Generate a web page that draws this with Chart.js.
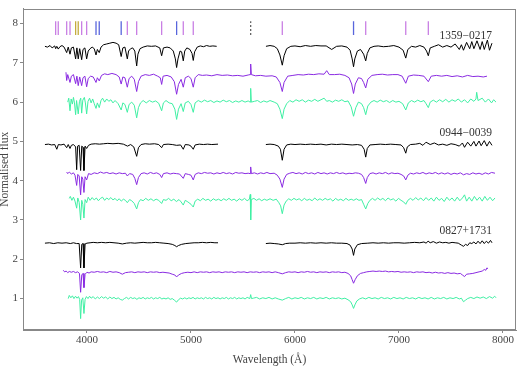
<!DOCTYPE html>
<html>
<head>
<meta charset="utf-8">
<script src="https://cdn.jsdelivr.net/npm/chart.js@4.4.1/dist/chart.umd.min.js"></script>
<style>
  html, body { margin: 0; padding: 0; background: #fff; }
</style>
</head>
<body>
<canvas id="chart_spectra" width="520" height="368"></canvas>
<script>
// spectra as flat [wavelength (A), normalised flux, ...] pairs; null flux = gap
var spec1359Black = [
  3596,7.42, 3620,7.40, 3645,7.44, 3665,7.38, 3690,7.43, 3699,7.36, 3710,7.42, 3724,7.35, 3740,7.41, 3760,7.44,
  3780,7.40, 3805,7.26, 3820,7.40, 3837,7.22, 3850,7.38, 3870,7.40, 3891,7.10, 3903,7.38, 3916,7.10, 3930,7.36,
  3949,7.08, 3962,7.34, 3980,7.38, 3997,7.10, 4012,7.30, 4030,7.36, 4050,7.40, 4070,7.36, 4087,7.20, 4100,7.34,
  4118,7.26, 4135,7.40, 4160,7.46, 4190,7.48, 4220,7.50, 4250,7.52, 4280,7.50, 4305,7.46, 4329,7.16, 4345,7.38,
  4365,7.40, 4388,7.10, 4400,7.30, 4420,7.36, 4440,7.38, 4460,7.30, 4478,6.92, 4490,7.22, 4510,7.36, 4540,7.40,
  4580,7.43, 4620,7.42, 4660,7.43, 4700,7.38, 4718,7.18, 4735,7.38, 4770,7.40, 4800,7.38, 4830,7.30, 4850,7.10,
  4862,6.88, 4875,7.10, 4895,7.30, 4910,7.28, 4926,7.05, 4940,7.30, 4960,7.38, 4990,7.34, 5010,7.24, 5022,7.06,
  5035,7.28, 5060,7.40, 5090,7.43, 5120,7.41, 5150,7.44, 5180,7.42, 5210,7.43, 5247,7.42,
  5500,null,
  5721,7.42, 5760,7.44, 5800,7.42, 5830,7.36, 5855,7.20, 5878,6.94, 5895,7.18, 5920,7.36, 5960,7.42, 6000,7.43,
  6050,7.41, 6100,7.44, 6150,7.42, 6200,7.44, 6250,7.43, 6300,7.43, 6353,7.34, 6400,7.42, 6450,7.43, 6500,7.40,
  6530,7.32, 6550,7.10, 6563,6.90, 6575,7.10, 6600,7.30, 6630,7.34, 6660,7.22, 6680,7.05, 6695,7.24, 6720,7.38,
  6760,7.42, 6800,7.43, 6850,7.41, 6900,7.42, 6950,7.44, 7000,7.40, 7040,7.32, 7065,7.12, 7085,7.34, 7120,7.42,
  7160,7.40, 7200,7.44, 7240,7.40, 7265,7.30, 7282,7.18, 7300,7.38, 7340,7.42, 7380,7.46, 7420,7.40, 7460,7.44,
  7500,7.40, 7540,7.48, 7580,7.34, 7600,7.46, 7620,7.32, 7650,7.52, 7680,7.36, 7700,7.54, 7720,7.36, 7750,7.56,
  7780,7.34, 7800,7.54, 7820,7.34, 7850,7.58, 7870,7.32, 7894,7.50
];
var spec1359Purple = [
  3798,6.76, 3805,6.55, 3815,6.70, 3837,6.50, 3850,6.66, 3870,6.70, 3891,6.47, 3903,6.66, 3916,6.42, 3930,6.64,
  3949,6.42, 3962,6.62, 3980,6.66, 3997,6.39, 4012,6.60, 4035,6.66, 4060,6.64, 4087,6.50, 4100,6.62, 4118,6.54,
  4140,6.68, 4170,6.72, 4200,6.70, 4240,6.73, 4280,6.70, 4310,6.64, 4329,6.46, 4345,6.64, 4365,6.62, 4388,6.38,
  4405,6.60, 4430,6.66, 4455,6.58, 4478,6.27, 4495,6.52, 4520,6.66, 4560,6.70, 4600,6.68, 4640,6.71, 4680,6.66,
  4705,6.62, 4718,6.45, 4732,6.66, 4770,6.68, 4810,6.64, 4840,6.52, 4862,6.20, 4880,6.45, 4905,6.58, 4926,6.38,
  4945,6.62, 4975,6.66, 5000,6.60, 5022,6.38, 5040,6.62, 5070,6.70, 5110,6.68, 5150,6.69, 5200,6.67, 5250,6.70,
  5300,6.68, 5350,6.69, 5400,6.67, 5450,6.68, 5500,6.66, 5550,6.69, 5568,6.70, 5574,6.97, 5580,6.70, 5620,6.67,
  5670,6.68, 5720,6.66, 5780,6.67, 5820,6.64, 5855,6.50, 5878,6.27, 5895,6.50, 5930,6.66, 5980,6.68, 6030,6.70,
  6080,6.69, 6130,6.71, 6180,6.70, 6230,6.72, 6280,6.71, 6305,6.80, 6330,6.70, 6380,6.70, 6430,6.71, 6480,6.68,
  6520,6.62, 6545,6.46, 6563,6.22, 6580,6.46, 6610,6.62, 6640,6.60, 6660,6.50, 6680,6.36, 6700,6.58, 6740,6.68,
  6790,6.70, 6840,6.71, 6890,6.69, 6940,6.70, 6990,6.70, 7030,6.66, 7065,6.48, 7090,6.66, 7140,6.69, 7190,6.68,
  7240,6.66, 7282,6.52, 7310,6.66, 7360,6.68, 7410,6.66, 7460,6.68, 7510,6.65, 7560,6.67, 7610,6.64, 7660,6.68,
  7710,6.65, 7760,6.66, 7810,6.64, 7846,6.66
];
var spec1359Green = [
  3815,6.00, 3825,6.10, 3837,5.78, 3848,6.08, 3860,5.95, 3870,6.12, 3880,5.98, 3891,5.68, 3900,6.04, 3916,5.70,
  3928,6.02, 3940,6.10, 3949,5.72, 3960,6.05, 3975,6.12, 3985,5.98, 3997,5.70, 4010,6.02, 4025,6.10, 4040,5.98,
  4055,6.08, 4070,5.96, 4087,5.84, 4100,5.98, 4118,5.86, 4135,6.04, 4150,6.10, 4170,6.00, 4190,6.08, 4210,6.02,
  4230,6.06, 4250,5.98, 4270,6.04, 4300,5.96, 4329,5.80, 4345,5.98, 4365,5.94, 4388,5.74, 4405,5.94, 4430,6.00,
  4455,5.92, 4478,5.60, 4495,5.86, 4515,5.98, 4540,6.04, 4570,5.98, 4600,6.04, 4630,6.00, 4660,6.03, 4690,5.97,
  4718,5.78, 4735,5.98, 4760,6.04, 4790,5.98, 4820,5.96, 4845,5.82, 4862,5.56, 4880,5.82, 4905,5.96, 4926,5.76,
  4945,5.98, 4975,6.02, 5000,5.94, 5022,5.74, 5040,5.98, 5070,6.04, 5100,6.00, 5130,6.05, 5160,6.01, 5190,6.04,
  5220,5.99, 5250,6.03, 5280,6.00, 5310,6.05, 5340,6.01, 5370,6.04, 5400,5.99, 5430,6.03, 5460,6.00, 5490,6.04,
  5520,6.00, 5550,6.03, 5568,6.00, 5574,6.35, 5580,6.00, 5610,6.02, 5640,6.04, 5670,5.99, 5700,6.03, 5730,6.00,
  5760,6.04, 5800,6.00, 5830,5.96, 5855,5.82, 5878,5.58, 5895,5.82, 5920,5.96, 5950,6.04, 5980,6.00, 6010,6.06,
  6040,6.02, 6070,6.06, 6100,6.00, 6130,6.05, 6160,6.02, 6190,6.07, 6220,6.02, 6250,6.06, 6280,6.10, 6305,6.02,
  6330,6.04, 6360,6.00, 6390,6.05, 6420,6.02, 6450,6.06, 6480,6.01, 6510,6.03, 6540,5.88, 6563,5.64, 6585,5.86,
  6610,6.00, 6640,5.96, 6660,5.86, 6680,5.68, 6700,5.90, 6730,6.00, 6760,6.04, 6790,6.00, 6820,6.05, 6850,6.01,
  6880,6.04, 6910,5.99, 6940,6.04, 6970,6.00, 7000,6.02, 7035,5.96, 7065,5.80, 7090,5.98, 7120,6.04, 7150,6.00,
  7180,6.05, 7210,6.01, 7240,6.04, 7260,5.96, 7282,5.86, 7300,6.00, 7330,6.05, 7360,6.00, 7390,6.06, 7420,6.01,
  7450,6.07, 7480,6.00, 7510,6.06, 7540,6.02, 7570,6.08, 7600,6.00, 7630,6.06, 7660,5.98, 7690,6.08, 7720,6.02,
  7740,6.08, 7747,6.25, 7760,6.04, 7800,6.10, 7830,6.00, 7860,6.08, 7890,5.98, 7910,6.06, 7933,6.00
];
var spec0944Black = [
  3596,4.92, 3630,4.93, 3660,4.91, 3690,4.92, 3710,4.80, 3725,4.92, 3750,4.91, 3780,4.93, 3805,4.84, 3820,4.92,
  3837,4.82, 3850,4.90, 3870,4.92, 3891,4.86, 3901,4.28, 3910,4.88, 3925,4.90, 3939,4.26, 3950,4.88, 3962,4.85,
  3971,4.26, 3982,4.88, 3997,4.82, 4015,4.90, 4040,4.93, 4080,4.94, 4120,4.93, 4160,4.94, 4200,4.95, 4250,4.94,
  4300,4.95, 4350,4.93, 4390,4.88, 4420,4.92, 4450,4.86, 4478,4.62, 4495,4.84, 4520,4.92, 4560,4.94, 4600,4.93,
  4650,4.94, 4690,4.92, 4718,4.84, 4735,4.92, 4780,4.93, 4820,4.92, 4862,4.90, 4900,4.91, 4926,4.80, 4945,4.92,
  4980,4.91, 5000,4.88, 5022,4.80, 5040,4.91, 5080,4.93, 5120,4.92, 5160,4.93, 5200,4.92, 5260,4.93,
  5500,null,
  5720,4.92, 5760,4.93, 5800,4.92, 5840,4.88, 5860,4.80, 5878,4.52, 5895,4.80, 5920,4.91, 5960,4.93, 6000,4.92,
  6050,4.93, 6100,4.92, 6150,4.93, 6200,4.92, 6250,4.93, 6300,4.91, 6350,4.93, 6400,4.92, 6450,4.93, 6500,4.92,
  6550,4.91, 6600,4.92, 6640,4.90, 6665,4.80, 6680,4.60, 6695,4.82, 6720,4.91, 6770,4.92, 6820,4.93, 6870,4.92,
  6920,4.93, 6970,4.92, 7020,4.91, 7045,4.84, 7065,4.70, 7080,4.86, 7110,4.92, 7160,4.93, 7200,4.95, 7230,4.90,
  7260,4.98, 7300,4.92, 7340,4.96, 7380,4.91, 7420,4.93, 7460,4.90, 7500,4.94, 7540,4.92, 7580,4.88, 7610,4.96,
  7630,4.85, 7660,4.98, 7690,4.88, 7720,5.00, 7740,4.88, 7770,5.01, 7790,4.89, 7820,5.02, 7845,4.88, 7870,5.00,
  7894,4.90
];
var spec0944Purple = [
  3805,4.22, 3815,4.18, 3830,4.22, 3850,4.17, 3870,4.20, 3885,4.14, 3901,3.88, 3912,4.16, 3925,4.12, 3939,3.64,
  3950,4.10, 3960,4.04, 3971,3.70, 3982,4.10, 3997,4.02, 4015,4.18, 4040,4.16, 4070,4.20, 4100,4.18, 4130,4.22,
  4160,4.19, 4190,4.21, 4220,4.18, 4250,4.20, 4280,4.17, 4310,4.20, 4340,4.18, 4370,4.19, 4388,4.12, 4410,4.18,
  4440,4.16, 4460,4.06, 4478,3.90, 4495,4.08, 4520,4.18, 4550,4.20, 4580,4.17, 4610,4.21, 4640,4.18, 4670,4.20,
  4700,4.16, 4718,4.08, 4735,4.18, 4770,4.20, 4800,4.17, 4830,4.19, 4860,4.18, 4890,4.17, 4926,4.06, 4945,4.18,
  4975,4.16, 5000,4.14, 5022,4.02, 5040,4.16, 5070,4.20, 5100,4.18, 5130,4.21, 5160,4.19, 5190,4.20, 5220,4.17,
  5250,4.20, 5280,4.18, 5310,4.21, 5340,4.18, 5370,4.20, 5400,4.17, 5430,4.21, 5460,4.19, 5490,4.20, 5520,4.18,
  5550,4.19, 5568,4.18, 5574,4.35, 5580,4.18, 5610,4.20, 5640,4.17, 5670,4.20, 5700,4.18, 5730,4.21, 5760,4.18,
  5800,4.19, 5830,4.14, 5855,4.04, 5878,3.83, 5895,4.04, 5920,4.16, 5950,4.19, 5980,4.21, 6010,4.18, 6040,4.20,
  6070,4.17, 6100,4.21, 6130,4.18, 6160,4.20, 6190,4.17, 6220,4.21, 6250,4.18, 6280,4.20, 6310,4.17, 6340,4.20,
  6370,4.18, 6400,4.21, 6430,4.18, 6460,4.20, 6490,4.17, 6520,4.19, 6550,4.18, 6580,4.20, 6610,4.19, 6640,4.16,
  6660,4.08, 6680,3.93, 6695,4.08, 6720,4.18, 6750,4.20, 6780,4.17, 6810,4.20, 6840,4.18, 6870,4.21, 6900,4.17,
  6930,4.20, 6960,4.18, 6990,4.19, 7020,4.16, 7045,4.12, 7065,4.02, 7085,4.14, 7110,4.19, 7140,4.17, 7170,4.20,
  7200,4.18, 7230,4.21, 7260,4.17, 7290,4.20, 7320,4.18, 7350,4.21, 7380,4.17, 7410,4.20, 7440,4.17, 7470,4.20,
  7500,4.16, 7530,4.19, 7560,4.17, 7590,4.20, 7620,4.15, 7650,4.18, 7680,4.16, 7710,4.20, 7740,4.17, 7770,4.19,
  7800,4.16, 7830,4.20, 7860,4.17, 7890,4.21, 7923,4.19
];
var spec0944Green = [
  3830,3.55, 3840,3.60, 3855,3.50, 3870,3.58, 3885,3.48, 3901,3.30, 3912,3.56, 3925,3.45, 3939,3.00, 3950,3.50,
  3960,3.40, 3971,3.05, 3982,3.52, 3997,3.44, 4012,3.58, 4030,3.50, 4050,3.57, 4070,3.51, 4090,3.56, 4110,3.49,
  4130,3.55, 4150,3.58, 4170,3.50, 4190,3.56, 4210,3.52, 4230,3.57, 4250,3.51, 4270,3.55, 4290,3.49, 4310,3.54,
  4330,3.48, 4350,3.53, 4370,3.50, 4388,3.44, 4410,3.52, 4430,3.49, 4455,3.42, 4478,3.28, 4495,3.44, 4515,3.52,
  4540,3.49, 4565,3.55, 4590,3.50, 4615,3.54, 4640,3.49, 4665,3.53, 4690,3.50, 4718,3.42, 4735,3.52, 4760,3.50,
  4785,3.55, 4810,3.49, 4835,3.53, 4860,3.47, 4885,3.52, 4905,3.46, 4926,3.38, 4945,3.50, 4970,3.46, 5000,3.40,
  5022,3.33, 5040,3.48, 5065,3.53, 5090,3.49, 5115,3.55, 5140,3.50, 5165,3.53, 5190,3.48, 5215,3.54, 5240,3.50,
  5265,3.53, 5290,3.49, 5315,3.54, 5340,3.50, 5365,3.55, 5390,3.50, 5415,3.53, 5440,3.48, 5465,3.54, 5490,3.50,
  5515,3.55, 5540,3.49, 5562,3.53, 5570,3.65, 5574,3.00, 5580,3.52, 5605,3.55, 5630,3.50, 5655,3.54, 5680,3.49,
  5705,3.53, 5730,3.50, 5760,3.54, 5790,3.50, 5820,3.53, 5845,3.44, 5862,3.36, 5878,3.16, 5895,3.38, 5915,3.48,
  5940,3.54, 5965,3.50, 5990,3.55, 6015,3.51, 6040,3.54, 6065,3.49, 6090,3.55, 6115,3.50, 6140,3.53, 6165,3.49,
  6190,3.56, 6215,3.50, 6240,3.54, 6265,3.50, 6290,3.55, 6315,3.51, 6340,3.54, 6365,3.48, 6390,3.55, 6415,3.50,
  6440,3.53, 6465,3.49, 6490,3.55, 6515,3.50, 6540,3.53, 6565,3.50, 6590,3.54, 6615,3.50, 6640,3.52, 6660,3.40,
  6680,3.28, 6700,3.42, 6720,3.50, 6745,3.55, 6770,3.50, 6795,3.56, 6820,3.51, 6845,3.55, 6870,3.49, 6895,3.56,
  6920,3.51, 6945,3.54, 6970,3.48, 6995,3.55, 7020,3.50, 7045,3.46, 7065,3.40, 7085,3.50, 7110,3.55, 7135,3.50,
  7160,3.57, 7185,3.51, 7210,3.56, 7235,3.49, 7260,3.57, 7285,3.50, 7310,3.56, 7335,3.48, 7360,3.58, 7385,3.50,
  7410,3.55, 7435,3.47, 7460,3.58, 7485,3.50, 7510,3.56, 7535,3.48, 7560,3.58, 7585,3.49, 7610,3.56, 7630,3.64,
  7650,3.48, 7675,3.58, 7700,3.48, 7725,3.60, 7750,3.50, 7775,3.58, 7800,3.48, 7825,3.60, 7850,3.50, 7875,3.58,
  7900,3.49, 7923,3.56
];
var spec0827Black = [
  3596,2.41, 3640,2.42, 3680,2.40, 3720,2.42, 3760,2.41, 3800,2.42, 3840,2.40, 3870,2.42, 3900,2.40, 3925,2.40,
  3939,1.78, 3950,2.38, 3962,2.40, 3971,1.78, 3982,2.39, 4000,2.41, 4030,2.42, 4060,2.43, 4100,2.42, 4140,2.43,
  4180,2.42, 4220,2.43, 4260,2.42, 4300,2.41, 4340,2.39, 4380,2.41, 4420,2.42, 4460,2.41, 4500,2.42, 4540,2.43,
  4580,2.42, 4620,2.42, 4660,2.43, 4700,2.42, 4740,2.41, 4780,2.40, 4820,2.38, 4845,2.35, 4862,2.32, 4880,2.35,
  4910,2.38, 4950,2.40, 4990,2.41, 5030,2.42, 5070,2.42, 5110,2.43, 5150,2.42, 5190,2.43, 5230,2.42, 5260,2.42,
  5500,null,
  5720,2.40, 5760,2.41, 5800,2.40, 5840,2.39, 5878,2.37, 5910,2.40, 5950,2.41, 6000,2.41, 6050,2.42, 6100,2.41,
  6150,2.42, 6200,2.41, 6250,2.42, 6300,2.41, 6350,2.42, 6400,2.41, 6450,2.41, 6500,2.40, 6530,2.36, 6550,2.26,
  6563,2.10, 6575,2.26, 6600,2.37, 6640,2.40, 6700,2.41, 6750,2.42, 6800,2.41, 6850,2.42, 6900,2.41, 6950,2.42,
  7000,2.42, 7050,2.41, 7100,2.42, 7150,2.43, 7200,2.42, 7240,2.44, 7260,2.41, 7280,2.46, 7300,2.42, 7330,2.45,
  7360,2.41, 7390,2.44, 7420,2.42, 7450,2.43, 7480,2.41, 7510,2.43, 7540,2.42, 7570,2.41, 7600,2.36, 7620,2.33,
  7640,2.38, 7660,2.35, 7680,2.42, 7700,2.40, 7720,2.44, 7740,2.39, 7760,2.46, 7780,2.40, 7800,2.47, 7820,2.40,
  7840,2.46, 7860,2.41, 7880,2.48, 7894,2.42
];
var spec0827Purple = [
  3772,1.72, 3785,1.68, 3800,1.70, 3815,1.66, 3830,1.69, 3850,1.67, 3870,1.69, 3890,1.66, 3910,1.68, 3928,1.64,
  3939,1.16, 3950,1.60, 3962,1.64, 3971,1.28, 3982,1.62, 4000,1.67, 4020,1.65, 4040,1.68, 4070,1.67, 4100,1.69,
  4130,1.67, 4160,1.68, 4190,1.66, 4220,1.69, 4250,1.67, 4280,1.68, 4310,1.66, 4340,1.62, 4370,1.66, 4400,1.67,
  4430,1.68, 4460,1.66, 4490,1.68, 4520,1.67, 4550,1.68, 4580,1.66, 4610,1.68, 4640,1.67, 4670,1.68, 4700,1.66,
  4730,1.67, 4760,1.66, 4790,1.65, 4820,1.62, 4845,1.60, 4862,1.55, 4880,1.60, 4910,1.64, 4940,1.66, 4970,1.67,
  5000,1.66, 5030,1.68, 5060,1.66, 5090,1.68, 5120,1.67, 5150,1.68, 5180,1.66, 5210,1.68, 5240,1.67, 5270,1.68,
  5300,1.66, 5330,1.68, 5360,1.67, 5390,1.68, 5420,1.66, 5450,1.68, 5480,1.67, 5510,1.68, 5540,1.66, 5570,1.68,
  5600,1.67, 5630,1.68, 5660,1.66, 5690,1.68, 5720,1.67, 5750,1.68, 5780,1.66, 5810,1.68, 5840,1.66, 5878,1.63,
  5910,1.66, 5940,1.68, 5970,1.67, 6000,1.68, 6030,1.66, 6060,1.68, 6090,1.67, 6120,1.69, 6150,1.67, 6180,1.68,
  6210,1.66, 6240,1.68, 6270,1.67, 6300,1.68, 6330,1.66, 6360,1.68, 6390,1.67, 6420,1.68, 6450,1.66, 6480,1.67,
  6510,1.64, 6535,1.58, 6550,1.48, 6563,1.39, 6578,1.48, 6600,1.58, 6630,1.64, 6660,1.66, 6690,1.68, 6720,1.69,
  6750,1.70, 6780,1.69, 6810,1.70, 6840,1.69, 6870,1.70, 6900,1.68, 6930,1.69, 6960,1.68, 6990,1.69, 7020,1.67,
  7050,1.68, 7080,1.67, 7110,1.68, 7140,1.66, 7170,1.68, 7200,1.67, 7230,1.68, 7260,1.66, 7290,1.67, 7320,1.65,
  7350,1.67, 7380,1.65, 7410,1.66, 7440,1.64, 7470,1.66, 7500,1.64, 7530,1.65, 7560,1.63, 7590,1.64, 7610,1.60,
  7630,1.56, 7650,1.62, 7680,1.63, 7710,1.64, 7740,1.66, 7770,1.68, 7800,1.70, 7820,1.74, 7835,1.72, 7845,1.78,
  7856,1.76
];
var spec0827Green = [
  3820,1.00, 3830,1.08, 3845,1.02, 3860,1.07, 3875,1.00, 3890,1.06, 3905,1.01, 3918,1.05, 3930,0.98, 3939,0.49,
  3948,0.96, 3960,1.02, 3971,0.62, 3982,0.98, 3995,1.05, 4010,1.00, 4025,1.06, 4040,1.01, 4060,1.05, 4080,0.99,
  4100,1.04, 4120,1.00, 4140,1.05, 4160,1.01, 4180,1.04, 4200,0.99, 4220,1.04, 4240,1.00, 4260,1.03, 4280,0.99,
  4300,1.02, 4320,0.98, 4340,0.96, 4360,1.00, 4380,1.03, 4400,0.99, 4420,1.03, 4440,1.00, 4460,1.02, 4480,0.98,
  4500,1.02, 4520,1.00, 4540,1.03, 4560,0.99, 4580,1.02, 4600,1.00, 4620,1.03, 4640,0.99, 4660,1.02, 4680,1.00,
  4700,1.03, 4720,0.99, 4740,1.01, 4760,0.99, 4780,1.02, 4800,0.98, 4820,1.00, 4840,0.96, 4862,0.91, 4880,0.97,
  4900,1.01, 4920,0.99, 4940,1.02, 4960,0.99, 4980,1.02, 5000,1.00, 5020,1.03, 5040,0.99, 5060,1.02, 5080,1.00,
  5100,1.02, 5120,0.99, 5140,1.03, 5160,1.00, 5180,1.02, 5200,0.99, 5220,1.03, 5240,1.00, 5260,1.02, 5280,0.99,
  5300,1.02, 5320,1.00, 5340,1.03, 5360,0.99, 5380,1.02, 5400,1.00, 5420,1.03, 5440,0.99, 5460,1.02, 5480,1.00,
  5500,1.02, 5520,0.99, 5540,1.03, 5566,1.00, 5574,1.10, 5582,1.00, 5600,1.01, 5630,1.03, 5660,0.99, 5690,1.02,
  5720,1.00, 5750,1.03, 5780,0.99, 5810,1.02, 5840,0.99, 5878,0.96, 5910,1.00, 5940,1.03, 5970,0.99, 6000,1.02,
  6030,1.00, 6060,1.03, 6090,0.99, 6120,1.02, 6150,1.00, 6180,1.03, 6210,0.99, 6240,1.02, 6270,1.00, 6300,1.03,
  6330,0.99, 6360,1.02, 6390,1.00, 6420,1.02, 6450,0.99, 6480,1.01, 6510,0.97, 6535,0.92, 6550,0.84, 6563,0.75,
  6576,0.84, 6595,0.94, 6620,0.99, 6650,1.02, 6680,0.99, 6710,1.03, 6740,1.00, 6770,1.02, 6800,0.99, 6830,1.03,
  6860,1.00, 6890,1.02, 6920,0.99, 6950,1.03, 6980,1.00, 7010,1.02, 7040,0.99, 7070,1.03, 7100,1.00, 7130,1.02,
  7160,0.99, 7190,1.03, 7220,1.00, 7250,1.02, 7280,0.99, 7310,1.03, 7340,0.99, 7370,1.02, 7400,1.00, 7430,1.03,
  7460,0.99, 7490,1.02, 7520,1.00, 7550,1.03, 7580,0.99, 7600,1.01, 7620,0.92, 7640,0.96, 7660,1.00, 7690,1.03,
  7720,1.00, 7750,1.04, 7780,1.01, 7810,1.04, 7840,1.00, 7870,1.05, 7900,1.01, 7920,1.06, 7933,1.02
];

// line markers along the top (wavelengths, A)
var heLines = [3699, 3724, 3805, 3837, 3949, 3997, 4388, 4478, 4718, 4926, 5022, 5878, 6680, 7065, 7282];
var balmerLines = [4087, 4118, 4329, 4862, 6563];
var caLines = [3891, 3916];
var skyLines = [5574];
var markerFlux = [7.71, 8.06];

var objectNames = ['1359\u22120217', '0944\u22120039', '0827+1731'];
var labelFlux = [7.68, 5.22, 2.72];
var labelWavelength = 7894;

var xTicks = [4000, 5000, 6000, 7000, 8000];
var yTicks = [1, 2, 3, 4, 5, 6, 7, 8];

var colBlack = '#000000';
var colPurple = '#8a2be2';
var colGreen = '#3ff0a4';

function toPoints(flat) {
  var pts = [];
  for (var i = 0; i < flat.length; i += 2) pts.push({x: flat[i], y: flat[i + 1]});
  return pts;
}
function markerPoints(lines) {
  var pts = [];
  lines.forEach(function (l) {
    pts.push({x: l, y: markerFlux[0]}, {x: l, y: markerFlux[1]}, {x: l, y: null});
  });
  return pts;
}
function spectrum(flat, color) {
  return {data: toPoints(flat), borderColor: color, borderWidth: 1, pointRadius: 0, tension: 0};
}
function markers(lines, color, dash) {
  return {data: markerPoints(lines), borderColor: color, borderWidth: 1.3, pointRadius: 0,
          borderDash: dash || [], tension: 0};
}

var serif = "'Liberation Serif', 'DejaVu Serif', serif";

var chart_spectra = new Chart(document.getElementById('chart_spectra'), {
  type: 'line',
  data: {
    datasets: [
      markers(heLines, '#c97fe4'),
      markers(balmerLines, '#5865dc'),
      markers(caLines, '#c4ad3c'),
      markers(skyLines, '#666666', [2, 2]),
      spectrum(spec1359Black, colBlack),
      spectrum(spec1359Purple, colPurple),
      spectrum(spec1359Green, colGreen),
      spectrum(spec0944Black, colBlack),
      spectrum(spec0944Purple, colPurple),
      spectrum(spec0944Green, colGreen),
      spectrum(spec0827Black, colBlack),
      spectrum(spec0827Purple, colPurple),
      spectrum(spec0827Green, colGreen)
    ]
  },
  options: {
    animation: false,
    responsive: false,
    spanGaps: false,
    layout: { padding: { top: 2, right: 4, left: 0, bottom: 0 } },
    plugins: {
      legend: { display: false },
      tooltip: { enabled: false }
    },
    scales: {
      x: {
        type: 'linear',
        min: 3385,
        max: 8125,
        afterBuildTicks: function (axis) { axis.ticks = xTicks.map(function (v) { return {value: v}; }); },
        afterFit: function (axis) { axis.height = 38; },
        ticks: { color: '#444', font: { family: serif, size: 11 }, padding: 1, maxRotation: 0,
                 callback: function (v) { return String(v); } },
        grid: { drawOnChartArea: false, tickLength: 3, color: '#888' },
        border: { color: '#888' },
        title: { display: true, text: 'Wavelength (\u00c5)', color: '#444',
                 font: { family: serif, size: 11.5 }, padding: { top: 0, bottom: 1.5 } }
      },
      y: {
        type: 'linear',
        min: 0.2,
        max: 8.38,
        afterBuildTicks: function (axis) { axis.ticks = yTicks.map(function (v) { return {value: v}; }); },
        afterFit: function (axis) { axis.width = 23; },
        ticks: { color: '#444', font: { family: serif, size: 11 }, padding: 2,
                 callback: function (v) { return String(v); } },
        grid: { drawOnChartArea: false, tickLength: 3, color: '#888' },
        border: { color: '#888' },
        title: { display: true, text: 'Normalised flux', color: '#444',
                 font: { family: serif, size: 11.5, lineHeight: 0.9 }, padding: { top: 0, bottom: 0 } }
      }
    }
  },
  plugins: [{
    id: 'frameAndLabels',
    beforeDraw: function (chart) {
      var ctx = chart.ctx;
      ctx.save();
      ctx.fillStyle = 'white';
      ctx.fillRect(0, 0, chart.width, chart.height);
      ctx.restore();
    },
    afterDraw: function (chart) {
      var ctx = chart.ctx, a = chart.chartArea;
      var xs = chart.scales.x, ys = chart.scales.y;
      ctx.save();
      ctx.strokeStyle = '#888';
      ctx.lineWidth = 1;
      ctx.strokeRect(Math.round(a.left) + 0.5, Math.round(a.top) + 0.5,
                     Math.round(a.right - a.left) - 1, Math.round(a.bottom - a.top) - 1);
      ctx.fillStyle = '#333';
      ctx.font = '11.5px ' + serif;
      ctx.textAlign = 'right';
      ctx.textBaseline = 'middle';
      objectNames.forEach(function (name, i) {
        ctx.fillText(name, xs.getPixelForValue(labelWavelength), ys.getPixelForValue(labelFlux[i]));
      });
      ctx.restore();
    }
  }]
});
</script>
</body>
</html>
